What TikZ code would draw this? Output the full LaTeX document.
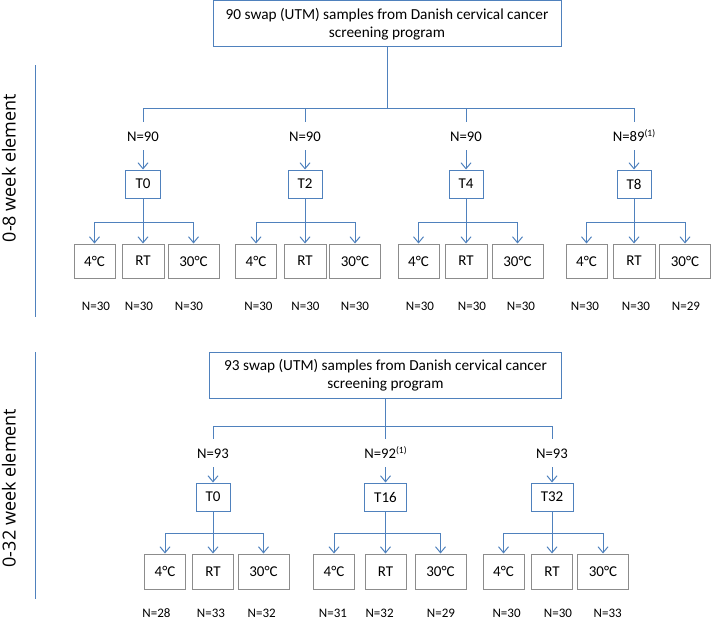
\documentclass[tikz,border=0pt]{standalone}
\usepackage{fontspec}
\setmainfont{Carlito}
\newfontfamily\sidefont{Open Sans}
\usetikzlibrary{arrows.meta}
\definecolor{lblue}{RGB}{79,129,189}
\definecolor{bgray}{RGB}{140,140,140}
\tikzset{
  conn/.style={draw=lblue, line width=1pt},
  arr/.style={conn, -{Straight Barb[length=6pt,width=10pt]}},
  topbox/.style={draw=lblue, line width=1pt, minimum width=348pt, minimum height=46pt, align=center, inner sep=0pt, font=\fontsize{15.3}{18.3}\selectfont},
  tbox/.style={draw=lblue, line width=1pt, minimum height=28pt, inner sep=0pt, font=\fontsize{15}{18}\selectfont},
  cbox/.style={draw=bgray, line width=1pt, inner sep=0pt, font=\fontsize{15}{18}\selectfont},
  nlab/.style={inner xsep=0pt, inner ysep=9pt, text height=10pt, text depth=0pt, font=\fontsize{14.7}{18}\selectfont},
  slab/.style={inner sep=1pt, font=\fontsize{13}{15}\selectfont},
  side/.style={rotate=90, inner sep=0pt, font=\sidefont\fontsize{18}{20}\selectfont},
  sideline/.style={draw=lblue, line width=0.8pt},
}
\newcommand{\supone}{\raisebox{5pt}{\fontsize{9.5}{10}\selectfont(1)}}
\begin{document}
\begin{tikzpicture}[x=1pt,y=-1pt]
\useasboundingbox (0,0) rectangle (711,626);
% ---------- 0-8 week element ----------
\node[side] (lab1) at (9,168) {0-8 week element};
\coordinate (l1a) at (35,65);
\coordinate (l1b) at (35,317);
\draw[sideline] (l1a) -- (l1b);
\node[topbox] (top1) at (387,24) {90 swap (UTM) samples from Danish cervical cancer\\screening program};
\coordinate (h1) at (387,108);
\draw[conn] (top1.south) -- (h1);
\foreach \g/\cx/\tw/\tname/\ntop/\xa/\xc/\pa/\pb/\pc/\la/\lb/\lc in {
  a/143/34.5/T0/N=90/94.5/193.5/96/139/189/N=30/N=30/N=30,
  b/305/34/T2/N=90/256/355/258.5/305.5/355/N=30/N=30/N=30,
  c/466/34/T4/N=90/418.5/517.5/420/472/521/N=30/N=30/N=30,
  d/634/34/T8/N=89\supone/586.5/685/585/636/686/N=30/N=30/N=29}
{
  \coordinate (b\g) at (\cx,108);
  \node[nlab] (n\g) at (\cx,136) {\ntop};
  \draw[conn] (b\g) -- (n\g.north);
  \node[tbox, minimum width=\tw pt] (t\g) at (\cx,184) {\tname};
  \draw[arr] (n\g.south) -- (t\g.north);
  \node[cbox, minimum width=41pt, minimum height=34pt] (c\g1) at (\xa,261) {4°C};
  \node[cbox, minimum width=42pt, minimum height=34pt] (c\g2) at (\cx,261) {RT};
  \node[cbox, minimum width=51pt, minimum height=34pt] (c\g3) at (\xc,261) {30°C};
  \coordinate (j\g) at (\cx,222);
  \draw[arr] (t\g.south) -- (c\g2.north);
  \draw[arr] (j\g) -| (c\g1.north);
  \draw[arr] (j\g) -| (c\g3.north);
  \node[slab] (s\g1) at (\pa,306) {\la};
  \node[slab] (s\g2) at (\pb,306) {\lb};
  \node[slab] (s\g3) at (\pc,306) {\lc};
}
\draw[conn] (ba) -- (bd);
% ---------- 0-32 week element ----------
\node[side] (lab2) at (9,488) {0-32 week element};
\coordinate (l2a) at (35,352);
\coordinate (l2b) at (35,599);
\draw[sideline] (l2a) -- (l2b);
\node[topbox, minimum width=352pt] (top2) at (385.5,375) {93 swap (UTM) samples from Danish cervical cancer\\screening program};
\coordinate (h2) at (385.5,426);
\draw[conn] (top2.south) -- (h2);
\foreach \g/\cx/\tw/\tname/\ntop/\xa/\xc/\pa/\pb/\pc/\la/\lb/\lc in {
  e/213/34/T0/N=93/165/263.5/156.5/211/261.7/N=28/N=33/N=32,
  f/385.5/42/T16/N=92\supone/334/440.5/333/379.6/441/N=31/N=32/N=29,
  g/552/42/T32/N=93/503.5/603/506.6/558/607.7/N=30/N=30/N=33}
{
  \coordinate (b\g) at (\cx,426);
  \node[nlab] (n\g) at (\cx,453) {\ntop};
  \draw[conn] (b\g) -- (n\g.north);
  \node[tbox, minimum width=\tw pt] (t\g) at (\cx,497) {\tname};
  \draw[arr] (n\g.south) -- (t\g.north);
  \node[cbox, minimum width=41pt, minimum height=35pt] (c\g1) at (\xa,571.5) {4°C};
  \node[cbox, minimum width=41pt, minimum height=35pt] (c\g2) at (\cx,571.5) {RT};
  \node[cbox, minimum width=51pt, minimum height=35pt] (c\g3) at (\xc,571.5) {30°C};
  \coordinate (j\g) at (\cx,533);
  \draw[arr] (t\g.south) -- (c\g2.north);
  \draw[arr] (j\g) -| (c\g1.north);
  \draw[arr] (j\g) -| (c\g3.north);
  \node[slab] (s\g1) at (\pa,613) {\la};
  \node[slab] (s\g2) at (\pb,613) {\lb};
  \node[slab] (s\g3) at (\pc,613) {\lc};
}
\draw[conn] (be) -- (bg);
\end{tikzpicture}
\end{document}
